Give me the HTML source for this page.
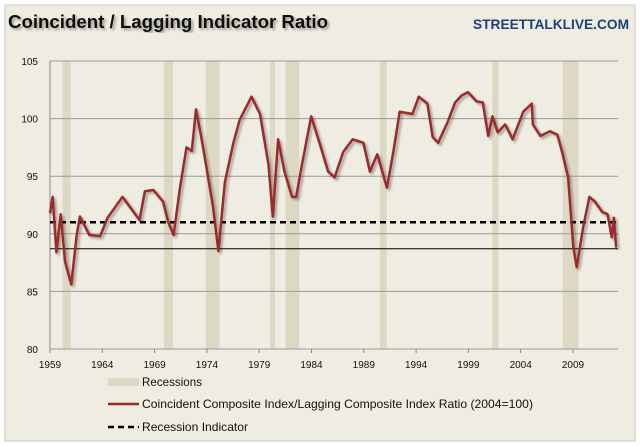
<!DOCTYPE html>
<html><head><meta charset="utf-8"><style>
body{margin:0;background:#fff;}
svg{display:block;font-family:"Liberation Sans",sans-serif;}
</style></head><body>
<svg width="640" height="447" viewBox="0 0 640 447" id="chart">
<defs><filter id="sh" x="-5%" y="-5%" width="110%" height="110%"><feGaussianBlur in="SourceAlpha" stdDeviation="1.2"/><feOffset dx="2" dy="2"/><feComponentTransfer><feFuncA type="linear" slope="0.35"/></feComponentTransfer><feMerge><feMergeNode/><feMergeNode in="SourceGraphic"/></feMerge></filter></defs>
<rect x="5" y="5" width="630" height="436" fill="#efece1" stroke="#c8c8c8"/>
<text x="8" y="28" font-size="18" font-weight="bold" fill="#111" textLength="320" lengthAdjust="spacingAndGlyphs" filter="url(#sh)">Coincident / Lagging Indicator Ratio</text>
<text x="473" y="29" font-size="14" font-weight="bold" fill="#1f3f7a" textLength="156" lengthAdjust="spacingAndGlyphs">STREETTALKLIVE.COM</text>
<g id="plot"></g>
<g>
<rect x="108" y="378" width="31" height="8" fill="#dcd8c4"/>
<text x="142" y="386" font-size="12" fill="#111" textLength="60" lengthAdjust="spacingAndGlyphs">Recessions</text>
<line x1="108" y1="404" x2="139" y2="404" stroke="#9b2a2a" stroke-width="2.5"/>
<text x="142" y="408" font-size="12" fill="#111" textLength="391" lengthAdjust="spacingAndGlyphs">Coincident Composite Index/Lagging Composite Index Ratio (2004=100)</text>
<line x1="108" y1="427" x2="139" y2="427" stroke="#000" stroke-width="2.5" stroke-dasharray="6,4"/>
<text x="142" y="431" font-size="12" fill="#111" textLength="106" lengthAdjust="spacingAndGlyphs">Recession Indicator</text>
</g>
</svg>
<script>
const yTicks=[80,85,90,95,100,105];
const xTickYears=[1959,1964,1969,1974,1979,1984,1989,1994,1999,2004,2009];
const recessions=[[1960.21,1960.98],[1969.9,1970.76],[1973.89,1975.19],[1980.03,1980.51],[1981.53,1982.83],[1990.55,1991.19],[2001.29,2001.86],[2008.02,2009.51]];
const recessionIndicator=91.0;
const baseline=88.7;
const years=[1959.0,1959.26,1959.61,1960.02,1960.43,1961.04,1961.55,1961.86,1962.77,1963.79,1964.51,1965.93,1967.56,1968.07,1968.89,1969.8,1970.31,1970.82,1971.43,1972.05,1972.56,1972.96,1973.58,1974.59,1975.1,1975.72,1976.53,1977.14,1978.26,1979.08,1979.89,1980.3,1980.81,1981.42,1982.14,1982.54,1983.15,1983.97,1984.79,1985.6,1986.21,1987.03,1987.94,1988.96,1989.58,1990.29,1991.21,1991.82,1992.43,1993.65,1994.26,1995.08,1995.59,1996.1,1997.01,1997.73,1998.34,1998.95,1999.77,2000.38,2000.89,2001.29,2001.8,2002.52,2003.23,2004.25,2005.06,2005.17,2005.88,2006.8,2007.51,2008.02,2008.53,2009.04,2009.35,2009.96,2010.57,2011.08,2011.79,2012.3,2012.71,2012.91,2013.12];
const ratio=[91.8,93.2,88.4,91.7,87.6,85.6,89.9,91.5,89.9,89.8,91.4,93.2,91.2,93.7,93.8,92.8,91.0,89.9,94.0,97.5,97.2,100.8,97.8,92.3,88.5,94.5,97.9,99.9,101.9,100.4,96.0,91.5,98.2,95.4,93.2,93.2,96.3,100.2,97.8,95.4,94.9,97.1,98.2,97.9,95.4,96.9,94.0,97.1,100.6,100.4,101.9,101.3,98.4,97.9,99.7,101.4,102.0,102.3,101.5,101.4,98.5,100.2,98.8,99.5,98.2,100.6,101.3,99.5,98.5,98.9,98.6,96.9,94.9,88.8,87.1,90.5,93.2,92.8,91.9,91.7,89.7,91.4,88.8];

const X0=50,X1=618,Y0=349,Y1=61;
const xs=y=>X0+(y-1959)*10.46;
const ys=v=>Y0-(v-80)*(Y0-Y1)/25;
const NS='http://www.w3.org/2000/svg';
const plot=document.getElementById('plot');
function mk(t,a,p){const e=document.createElementNS(NS,t);for(const k in a)e.setAttribute(k,a[k]);(p||plot).appendChild(e);return e;}
recessions.forEach(r=>{
 const e=mk('rect',{x:xs(r[0]),y:Y1,width:xs(r[1])-xs(r[0]),height:Y0-Y1,fill:'#dcd8c4'});
 
 
});
yTicks.forEach(v=>{
 const l=mk('line',{x1:X0,x2:X1,y1:ys(v),y2:ys(v),stroke:'#9a9a9a','stroke-width':1});
 
 
 const t=mk('text',{x:38,y:ys(v)+4,'text-anchor':'end','font-size':10,fill:'#111'});
 t.textContent=v;
 
 
});
const ax=mk('line',{x1:X0,x2:X0,y1:Y1,y2:Y0,stroke:'#888'});


xTickYears.forEach(y=>{
 const tk=mk('line',{x1:xs(y),x2:xs(y),y1:Y0,y2:Y0+4,stroke:'#888'});
 
 
 const t=mk('text',{x:xs(y),y:368,'text-anchor':'middle','font-size':10,fill:'#111'});
 t.textContent=y;
 
 
});
const bl=mk('line',{x1:X0,x2:X1,y1:ys(baseline),y2:ys(baseline),stroke:'#000','stroke-width':1});


const dl=mk('line',{x1:X0,x2:X1,y1:ys(recessionIndicator),y2:ys(recessionIndicator),stroke:'#000','stroke-width':2.5,'stroke-dasharray':'6,4'});


const pts=years.map((y,i)=>xs(y).toFixed(1)+','+ys(ratio[i]).toFixed(1)).join(' ');
const pl=mk('polyline',{points:pts,fill:'none',stroke:'#9b2a2a','stroke-width':2.5,'stroke-linejoin':'round',filter:'url(#sh)'});


</script>
</body></html>
